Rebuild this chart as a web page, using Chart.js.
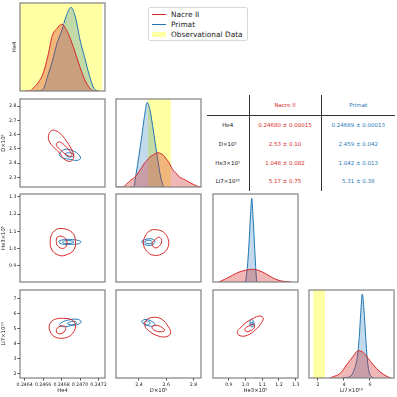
<!DOCTYPE html>
<html>
<head>
<meta charset="utf-8">
<script src="https://cdn.jsdelivr.net/npm/chart.js@4"></script>
<style>
  html, body { margin: 0; padding: 0; background: #fff; }
  body { width: 397px; height: 397px; position: relative; overflow: hidden; font-family: 'DejaVu Sans', sans-serif; }
  canvas { position: absolute; }
  #legend { position: absolute; left: 148px; top: 7px; width: 100px; height: 34px; border: 1px solid #d8d8d8; border-radius: 2px; background: #fff; font-size: 7.4px; color: #222; box-sizing: border-box; padding-top: 1.5px; }
  #legend .item { height: 10px; line-height: 10px; white-space: nowrap; position: relative; padding-left: 22px; }
  #legend .mark { position: absolute; left: 3px; width: 14px; }
  #stats { position: absolute; left: 207px; top: 95px; border-collapse: collapse; table-layout: fixed; font-size: 5.5px; }
  #stats td { text-align: center; padding: 0; white-space: nowrap; }
  #stats tr.head td { height: 20px; border-bottom: 1.2px solid #333; }
  #stats tr.row td { height: 18.7px; }
  #stats td.c1, #stats td.c2 { border-left: 1.2px solid #333; }
</style>
</head>
<body>
<div id="legend"></div>
<table id="stats"></table>
<script>
// ---- data ----
const paramLabels = ['He4', 'D×10⁵', 'He3×10⁵', 'Li7×10¹⁰'];
const modelNames = ['Nacre II', 'Primat'];
const obsLabel = 'Observational Data';

const nacreStats = ['0.24680 ± 0.00015', '2.53 ± 0.10', '1.048 ± 0.082', '5.17 ± 0.75'];
const primatStats = ['0.24689 ± 0.00013', '2.459 ± 0.042', '1.042 ± 0.013', '5.31 ± 0.38'];

// axis limits (columns = x, rows = y)
const colRanges = [[0.24635, 0.24727], [2.231, 2.856], [0.805, 1.314], [1.31, 7.85]];
const rowRanges = [[0, 1], [2.234, 2.849], [0.807, 1.316], [1.73, 7.6]];
const densityRange = [0, 1];

const he4Ticks = [0.2464, 0.2466, 0.2468, 0.2470, 0.2472];
const dTicksX = [2.4, 2.6, 2.8];
const dTicksY = [2.3, 2.4, 2.5, 2.6, 2.7, 2.8];
const he3Ticks = [0.9, 1.0, 1.1, 1.2, 1.3];
const li7TicksX = [2, 4, 6];
const li7TicksY = [2, 3, 4, 5, 6, 7];

// observational bands
const obsHe4 = [0.2460, 0.24724];
const obsD = [2.465, 2.635];
const obsLi7 = [1.64, 2.54];

// 1D densities (value, relative height)
const he4Nacre = [[0.24640,0],[0.24645,0],[0.24650,0.04],[0.24655,0.10],[0.24660,0.20],[0.24665,0.39],[0.24670,0.63],[0.24675,0.71],[0.24680,0.76],[0.24685,0.70],[0.24690,0.58],[0.24695,0.43],[0.24700,0.27],[0.24705,0.13],[0.24710,0.04],[0.24715,0],[0.24720,0]];
const he4Primat = [[0.24650,0],[0.24655,0],[0.24660,0.02],[0.24665,0.17],[0.24670,0.34],[0.24675,0.54],[0.24680,0.68],[0.24685,0.85],[0.24690,0.95],[0.24695,0.84],[0.24700,0.58],[0.24705,0.38],[0.24710,0.18],[0.24715,0.03],[0.24720,0]];
const dNacre = [[2.24,0],[2.26,0],[2.28,0],[2.30,0.02],[2.32,0.05],[2.34,0.08],[2.36,0.10],[2.38,0.13],[2.40,0.175],[2.42,0.22],[2.44,0.27],[2.46,0.305],[2.48,0.34],[2.50,0.36],[2.52,0.38],[2.54,0.39],[2.56,0.38],[2.58,0.36],[2.60,0.32],[2.62,0.28],[2.64,0.22],[2.66,0.175],[2.68,0.145],[2.70,0.11],[2.72,0.095],[2.74,0.08],[2.76,0.063],[2.78,0.045],[2.80,0.03],[2.82,0.015],[2.84,0.002],[2.86,0]];
const dPrimat = [[2.34,0],[2.36,0],[2.38,0.16],[2.40,0.36],[2.42,0.57],[2.44,0.80],[2.46,0.96],[2.48,0.88],[2.50,0.70],[2.52,0.49],[2.54,0.29],[2.56,0.11],[2.58,0]];
const he3Nacre = [[0.84,0],[0.88,0.035],[0.92,0.075],[0.96,0.112],[1.00,0.133],[1.04,0.145],[1.08,0.13],[1.12,0.095],[1.16,0.05],[1.20,0.018],[1.24,0.005],[1.27,0]];
const he3Primat = [[1.000,0],[1.010,0.15],[1.020,0.42],[1.030,0.77],[1.037,0.95],[1.045,0.73],[1.055,0.37],[1.062,0.12],[1.067,0]];
const li7Nacre = [[2.9,0],[3.18,0.015],[3.69,0.05],[4.21,0.15],[4.67,0.24],[5.10,0.31],[5.49,0.29],[5.87,0.22],[6.26,0.15],[6.77,0.07],[7.29,0.02],[7.6,0]];
const li7Primat = [[3.8,0],[4.46,0.015],[4.77,0.09],[5.03,0.24],[5.18,0.47],[5.29,0.735],[5.41,0.955],[5.54,0.77],[5.67,0.47],[5.79,0.22],[5.93,0.07],[6.13,0.015],[6.3,0]];

// 2D contours (outer, inner) as [x, y] points
const nacreHe4D = [
  [[0.246696,2.630],[0.246751,2.623],[0.246805,2.595],[0.246860,2.548],[0.246914,2.490],[0.246932,2.443],[0.246896,2.413],[0.246823,2.431],[0.246787,2.466],[0.246732,2.501],[0.246670,2.548],[0.246659,2.595]],
  [[0.246751,2.543],[0.246787,2.548],[0.246841,2.520],[0.246896,2.478],[0.246914,2.455],[0.246877,2.450],[0.246823,2.473],[0.246768,2.506],[0.246743,2.529]]
];
const primatHe4D = [
  [[0.246787,2.478],[0.246841,2.497],[0.246914,2.490],[0.246976,2.466],[0.247005,2.436],[0.246969,2.420],[0.246896,2.427],[0.246823,2.436],[0.246779,2.455]],
  [[0.246841,2.466],[0.246888,2.473],[0.246932,2.462],[0.246914,2.445],[0.246860,2.448]]
];
const nacreHe4He3 = [
  [[0.246787,1.117],[0.246914,1.094],[0.246950,1.043],[0.246932,0.992],[0.246841,0.962],[0.246768,0.962],[0.246696,0.992],[0.246677,1.043],[0.246707,1.094]],
  [[0.246754,1.067],[0.246809,1.070],[0.246852,1.050],[0.246852,1.015],[0.246809,1.001],[0.246759,1.015],[0.246743,1.041]]
];
const primatHe4He3 = [
  [[0.246768,1.039],[0.246809,1.051],[0.246896,1.053],[0.246983,1.047],[0.247010,1.039],[0.246983,1.028],[0.246896,1.025],[0.246809,1.026]],
  [[0.246830,1.045],[0.246907,1.045],[0.246934,1.039],[0.246907,1.031],[0.246830,1.031],[0.246809,1.039]]
];
const nacreDHe3 = [
  [[2.518,1.110],[2.579,1.096],[2.616,1.052],[2.611,1.004],[2.567,0.969],[2.505,0.962],[2.457,0.985],[2.432,1.033],[2.452,1.081],[2.481,1.104]],
  [[2.518,1.052],[2.549,1.066],[2.567,1.046],[2.555,1.020],[2.525,1.004],[2.501,1.014],[2.498,1.033]]
];
const primatDHe3 = [
  [[2.420,1.040],[2.452,1.054],[2.496,1.056],[2.518,1.040],[2.496,1.022],[2.452,1.021]],
  [[2.441,1.038],[2.463,1.048],[2.488,1.046],[2.496,1.034],[2.466,1.029]]
];
const nacreHe4Li7 = [
  [[0.246677,5.38],[0.246732,5.65],[0.246823,5.71],[0.246914,5.60],[0.246950,5.27],[0.246932,4.82],[0.246877,4.49],[0.246787,4.38],[0.246714,4.53],[0.246670,4.93]],
  [[0.246751,5.05],[0.246794,5.20],[0.246841,5.15],[0.246841,4.93],[0.246805,4.71],[0.246757,4.71],[0.246743,4.87]]
];
const primatHe4Li7 = [
  [[0.246779,5.27],[0.246805,5.45],[0.246877,5.60],[0.246969,5.65],[0.247013,5.49],[0.246986,5.33],[0.246896,5.22],[0.246823,5.15]],
  [[0.246863,5.37],[0.246896,5.48],[0.246950,5.50],[0.246961,5.37],[0.246907,5.27]]
];
const nacreDLi7 = [
  [[2.457,5.60],[2.505,5.78],[2.567,5.65],[2.616,5.15],[2.633,4.75],[2.604,4.49],[2.542,4.53],[2.481,4.82],[2.444,5.20]],
  [[2.496,5.13],[2.525,5.25],[2.569,5.10],[2.588,4.90],[2.555,4.81],[2.510,4.93]]
];
const primatDLi7 = [
  [[2.419,5.50],[2.444,5.63],[2.481,5.57],[2.518,5.30],[2.496,5.18],[2.452,5.27],[2.430,5.37]],
  [[2.437,5.43],[2.459,5.53],[2.481,5.43],[2.470,5.27],[2.444,5.30]]
];
const nacreHe3Li7 = [
  [[0.967,5.05],[0.997,5.38],[1.046,5.71],[1.086,5.87],[1.106,5.71],[1.086,5.27],[1.046,4.82],[0.997,4.53],[0.957,4.60],[0.951,4.82]],
  [[0.997,5.03],[1.027,5.23],[1.051,5.30],[1.051,5.07],[1.027,4.87],[1.003,4.83]]
];
const primatHe3Li7 = [
  [[1.037,5.63],[1.048,5.50],[1.051,5.30],[1.039,5.13],[1.027,5.27],[1.027,5.50]],
  [[1.040,5.47],[1.044,5.33],[1.039,5.23],[1.033,5.33],[1.035,5.43]]
];

// ---- layout / style ----
const RED = '#d62728', BLUE = '#1f77b4';
const YELLOW = 'rgba(255,255,0,0.36)';
const colLeft = [20, 116, 213, 309];
const rowTop = [3, 99, 194, 290];
const PW = 85, PH = 88;
const L = 20, R = 8, T = 4, B = 16;

Chart.defaults.font.family = "'DejaVu Sans', sans-serif";
Chart.defaults.font.size = 4.7;
Chart.defaults.color = '#222';

const bandPlugin = {
  id: 'band',
  beforeDatasetsDraw(chart, args, opts) {
    if (!opts.range) return;
    const { ctx, chartArea: a, scales: { x } } = chart;
    const x0 = Math.max(a.left, x.getPixelForValue(opts.range[0]));
    const x1 = Math.min(a.right, x.getPixelForValue(opts.range[1]));
    ctx.save();
    ctx.fillStyle = YELLOW;
    ctx.fillRect(x0, a.top, x1 - x0, a.bottom - a.top);
    ctx.restore();
  }
};
const framePlugin = {
  id: 'frame',
  afterDatasetsDraw(chart) {
    const { ctx, chartArea: a } = chart;
    ctx.save();
    ctx.strokeStyle = '#808080';
    ctx.lineWidth = 1.2;
    ctx.strokeRect(a.left, a.top, a.right - a.left, a.bottom - a.top);
    ctx.restore();
  }
};
// close contour lines smoothly (same as radar lines)
const loopPlugin = {
  id: 'closeLoops',
  afterDatasetsUpdate(chart) {
    chart.data.datasets.forEach((ds, i) => {
      if (!ds.closed) return;
      const line = chart.getDatasetMeta(i).dataset;
      line._loop = true;
      line._fullLoop = true;
    });
  }
};

const xTicks = [he4Ticks, dTicksX, he3Ticks, li7TicksX];
const yTicks = [[], dTicksY, he3Ticks, li7TicksY];
const decimals = [4, 1, 1, 0];

const pts = arr => arr.map(p => ({ x: p[0], y: p[1] }));

function kde(arr, color, alpha) {
  return {
    data: pts(arr), borderColor: color, backgroundColor: color + alpha,
    borderWidth: 1, fill: 'origin', pointRadius: 0, cubicInterpolationMode: 'monotone'
  };
}
function contours(levels, color) {
  return levels.map(lv => ({
    data: pts(lv), closed: true, borderColor: color, borderWidth: 1, fill: false, pointRadius: 0, tension: 0.4
  }));
}

function panel(r, c, datasets, band) {
  const showX = r === 3;
  const showY = c === 0;
  const yw = r === 0 ? 9 : L;
  const yr = r === c ? densityRange : rowRanges[r];
  const cv = document.createElement('canvas');
  cv.width = PW + L + R;
  cv.height = PH + T + B;
  cv.style.left = (colLeft[c] - L) + 'px';
  cv.style.top = (rowTop[r] - T) + 'px';
  document.body.appendChild(cv);
  new Chart(cv, {
    type: 'line',
    data: { datasets },
    options: {
      responsive: false, animation: false, devicePixelRatio: 1,
      layout: { padding: { left: showY ? L - yw : L, right: R, top: T, bottom: showX ? 0 : B } },
      plugins: { legend: { display: false }, tooltip: { enabled: false }, band: { range: band } },
      scales: {
        x: {
          type: 'linear', min: colRanges[c][0], max: colRanges[c][1], display: showX,
          afterBuildTicks: s => { s.ticks = xTicks[c].map(v => ({ value: v })); },
          afterFit: s => { if (showX) s.height = B; },
          ticks: { callback: v => v.toFixed(decimals[c]), maxRotation: 0, autoSkip: false, padding: 1 },
          grid: { drawOnChartArea: false, drawTicks: true, tickLength: 2.5, color: '#444' },
          border: { display: false },
          title: { display: true, text: paramLabels[c], padding: { top: 0, bottom: 0 }, font: { size: 5.3 } }
        },
        y: {
          type: 'linear', min: yr[0], max: yr[1], display: showY,
          afterBuildTicks: s => { s.ticks = yTicks[r].map(v => ({ value: v })); },
          afterFit: s => { if (showY) s.width = yw; },
          ticks: { display: r !== 0, callback: v => v.toFixed(decimals[r]), padding: 1 },
          grid: { display: r !== 0, drawOnChartArea: false, drawTicks: true, tickLength: 2.5, color: '#444' },
          border: { display: false },
          title: { display: true, text: paramLabels[r], padding: { top: 0, bottom: 0 }, font: { size: 5.3 } }
        }
      }
    },
    plugins: [bandPlugin, framePlugin, loopPlugin]
  });
}

// diagonal
panel(0, 0, [kde(he4Nacre, RED, '55'), kde(he4Primat, BLUE, '45')], obsHe4);
panel(1, 1, [kde(dNacre, RED, '55'), kde(dPrimat, BLUE, '45')], obsD);
panel(2, 2, [kde(he3Nacre, RED, '55'), kde(he3Primat, BLUE, '45')], null);
panel(3, 3, [kde(li7Nacre, RED, '55'), kde(li7Primat, BLUE, '45')], obsLi7);
// lower triangle
panel(1, 0, contours(nacreHe4D, RED).concat(contours(primatHe4D, BLUE)), null);
panel(2, 0, contours(nacreHe4He3, RED).concat(contours(primatHe4He3, BLUE)), null);
panel(2, 1, contours(nacreDHe3, RED).concat(contours(primatDHe3, BLUE)), null);
panel(3, 0, contours(nacreHe4Li7, RED).concat(contours(primatHe4Li7, BLUE)), null);
panel(3, 1, contours(nacreDLi7, RED).concat(contours(primatDLi7, BLUE)), null);
panel(3, 2, contours(nacreHe3Li7, RED).concat(contours(primatHe3Li7, BLUE)), null);

// legend
const legend = document.getElementById('legend');
[[modelNames[0], RED, 'line'], [modelNames[1], BLUE, 'line'], [obsLabel, YELLOW, 'patch']].forEach(([txt, col, kind]) => {
  const it = document.createElement('div');
  it.className = 'item';
  const m = document.createElement('span');
  m.className = 'mark';
  m.style.background = col;
  if (kind === 'line') { m.style.height = '1.3px'; m.style.top = '4.4px'; }
  else { m.style.height = '5px'; m.style.top = '2.5px'; }
  it.appendChild(m);
  it.appendChild(document.createTextNode(txt));
  legend.appendChild(it);
});

// stats table
const table = document.getElementById('stats');
const colW = [42, 72, 74];
const cg = document.createElement('colgroup');
colW.forEach(w => { const col = document.createElement('col'); col.style.width = w + 'px'; cg.appendChild(col); });
table.appendChild(cg);
const head = table.insertRow();
head.className = 'head';
['', modelNames[0], modelNames[1]].forEach((t, i) => {
  const td = head.insertCell();
  td.className = 'c' + i;
  td.textContent = t;
  td.style.color = i === 1 ? RED : i === 2 ? BLUE : '#111';
});
paramLabels.forEach((p, k) => {
  const tr = table.insertRow();
  tr.className = 'row';
  [p, nacreStats[k], primatStats[k]].forEach((t, i) => {
    const td = tr.insertCell();
    td.className = 'c' + i;
    td.textContent = t;
    td.style.color = i === 1 ? RED : i === 2 ? BLUE : '#111';
  });
});
</script>
</body>
</html>
